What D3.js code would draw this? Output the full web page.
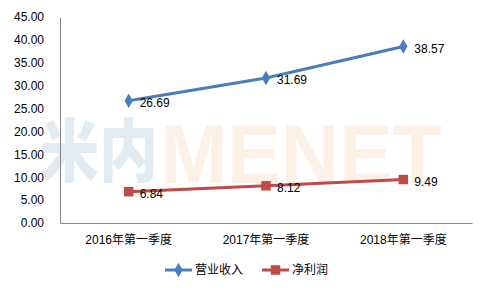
<!DOCTYPE html>
<meta charset="UTF-8">
<style>
body { margin: 0; background: #fff; }
text { font-family: "Liberation Sans", "Noto Sans CJK SC", sans-serif; fill: #000; }
.axis path, .axis line { stroke: #868686; }
</style>
<body>
<script src="https://d3js.org/d3.v7.min.js"></script>
<script>

// data
var categories = ["2016年第一季度", "2017年第一季度", "2018年第一季度"];
var revenue = [26.69, 31.69, 38.57];   // 营业收入
var profit = [6.84, 8.12, 9.49];       // 净利润
var seriesNames = ["营业收入", "净利润"];
var yTicks = [0, 5, 10, 15, 20, 25, 30, 35, 40, 45];

var width = 488, height = 288;
var margin = {top: 17, right: 16, bottom: 65, left: 60};

var svg = d3.select("body").append("svg")
    .attr("width", width)
    .attr("height", height);

// watermark behind everything
var wm = svg.append("g").style("font-weight", "900");
wm.append("text").attr("x", 40).attr("y", 176).text("米内")
  .style("fill", "#e2ebf1").style("font-family", "Noto Sans CJK SC")
  .style("font-size", "68px")
  .attr("textLength", 118).attr("lengthAdjust", "spacingAndGlyphs");
wm.append("text").attr("x", 160).attr("y", 183).text("MENET")
  .style("fill", "#fdf0e4").style("font-family", "Liberation Sans")
  .style("font-size", "84px")
  .attr("textLength", 282).attr("lengthAdjust", "spacingAndGlyphs");

var x = d3.scaleBand()
    .domain(categories)
    .range([margin.left, width - margin.right]);

var y = d3.scaleLinear()
    .domain([0, 45])
    .range([height - margin.bottom, margin.top]);

// y axis
var yAxis = svg.append("g")
    .attr("class", "axis")
    .attr("transform", "translate(" + margin.left + ",0)")
    .call(d3.axisLeft(y).tickValues(yTicks).tickSize(0).tickPadding(16)
      .tickFormat(d3.format(".2f")));
yAxis.selectAll("text").style("font-size", "12px");

// x axis
var xAxis = svg.append("g")
    .attr("class", "axis")
    .attr("transform", "translate(0," + (height - margin.bottom) + ")")
    .call(d3.axisBottom(x).tickSize(0).tickPadding(12));
xAxis.selectAll("text").style("font-size", "12px");

var series = [
  {name: seriesNames[0], values: revenue, color: "#4a7ebb", shape: d3.symbolDiamond, size: 60},
  {name: seriesNames[1], values: profit, color: "#be4b48", shape: d3.symbolSquare, size: 90}
];

var line = d3.line()
    .x(function(d, i) { return x(categories[i]) + x.bandwidth() / 2; })
    .y(function(d) { return y(d); });

series.forEach(function(s) {
  svg.append("path")
      .datum(s.values)
      .attr("fill", "none")
      .attr("stroke", s.color)
      .attr("stroke-width", 3)
      .attr("d", line);

  svg.selectAll(null)
      .data(s.values)
      .enter().append("path")
      .attr("d", d3.symbol().type(s.shape).size(s.size))
      .attr("fill", s.color)
      .attr("transform", function(d, i) {
        return "translate(" + (x(categories[i]) + x.bandwidth() / 2) + "," + y(d) + ")";
      });

  svg.selectAll(null)
      .data(s.values)
      .enter().append("text")
      .attr("x", function(d, i) { return x(categories[i]) + x.bandwidth() / 2 + 11; })
      .attr("y", function(d) { return y(d) + 2; })
      .attr("dy", "0.35em")
      .style("font-size", "12px")
      .text(function(d) { return d.toFixed(2); });
});

// legend
var legend = svg.append("g").attr("transform", "translate(0,270)");
var lx = [165, 262];
series.forEach(function(s, i) {
  var g = legend.append("g").attr("transform", "translate(" + lx[i] + ",0)");
  g.append("line").attr("x1", 0).attr("x2", 27)
    .attr("stroke", s.color).attr("stroke-width", 3);
  g.append("path")
    .attr("d", d3.symbol().type(s.shape).size(s.size))
    .attr("fill", s.color)
    .attr("transform", "translate(13.5,0)");
  g.append("text").attr("x", 30).attr("dy", "0.35em")
    .style("font-size", "12px").text(s.name);
});

</script>
</body>
